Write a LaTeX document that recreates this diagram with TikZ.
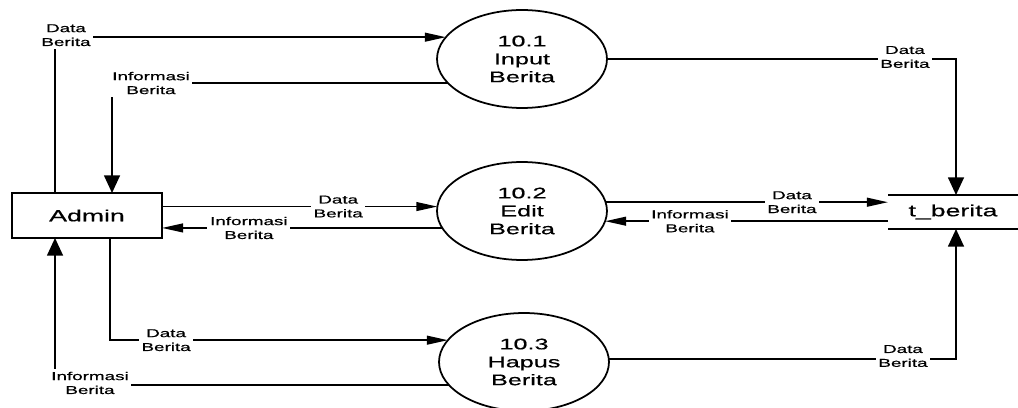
\documentclass[tikz,border=0pt]{standalone}
\usepackage{fontspec}
\setmainfont{Liberation Sans}
\newfontfamily\diafont[FakeStretch=1.65,FakeBold=0.6]{Liberation Sans}
\usetikzlibrary{arrows.meta,shapes.geometric,calc}
\begin{document}
\begin{tikzpicture}[x=0.02cm,y=-0.02cm,
  every node/.style={outer sep=0pt},
  proc/.style={ellipse, draw, line width=1pt, minimum width=3.4cm, minimum height=1.96cm,
    inner sep=0pt, align=center, font=\diafont\fontsize{8.7}{10.2}\selectfont},
  entity/.style={rectangle, draw, line width=0.8pt, minimum width=3cm, minimum height=0.9cm,
    inner sep=0pt, font=\diafont\fontsize{9.2}{11}\selectfont},
  datastore/.style={rectangle, minimum width=2.6cm, minimum height=0.68cm, inner sep=0pt,
    font=\diafont\fontsize{9.2}{11}\selectfont},
  lbl/.style={fill=white, inner sep=1.5pt, align=center, font=\diafont\fontsize{6.5}{7.9}\selectfont},
  flowh/.style={line width=1pt, -{Triangle[length=12pt,width=5pt]}},
  flowv/.style={line width=1pt, -{Triangle[length=10pt,width=9pt]}}
]
\useasboundingbox (0,0) rectangle (1018,408);

% external entity, processes and data store
\node[entity] (admin) at (87,215.5) {Admin};
\node[proc] (p1) at (522,59) {10.1\\Input\\Berita};
\node[proc] (p2) at (522,211) {10.2\\Edit\\Berita};
\node[proc] (p3) at (524,362) {10.3\\Hapus\\Berita};
\node[datastore] (store) at (953,212) {t\_berita};
\draw[line width=1pt] (store.north west) -- (store.north east)
                      (store.south west) -- (store.south east);

% Input Berita flows
\draw[flowh] ($(admin.north west)+(43,0)$) |- node[lbl, pos=0.5, xshift=0.22cm, yshift=0.04cm] {Data\\Berita} (p1.164);
\draw[flowv] (p1.198) -| node[lbl, pos=0.5, xshift=0.78cm] {Informasi\\Berita} ($(admin.north west)+(100,0)$);
\draw[flowv] (p1.east) -| node[lbl, pos=0.5, xshift=-1.02cm, yshift=0.04cm] {Data\\Berita} ($(store.north)+(3,0)$);

% Edit Berita flows
\draw[flowh] (admin.east |- p2.177) -- node[lbl, pos=0.64] {Data\\Berita} (p2.177);
\draw[flowh] (p2.192) -- node[lbl, pos=0.69] {Informasi\\Berita} (admin.east |- p2.192);
\draw[flowh] (p2.6) -- node[lbl, pos=0.66] {Data\\Berita} (store.west |- p2.6);
\draw[flowh] (store.west |- p2.353) -- node[lbl, pos=0.70] {Informasi\\Berita} (p2.353);

% Hapus Berita flows
\draw[flowh] ($(admin.south west)+(98,0)$) |- node[lbl, pos=0.583] {Data\\Berita} (p3.164);
\draw[flowv] (p3.197) -| node[lbl, pos=0.5, xshift=0.7cm, yshift=0.04cm] {Informasi\\Berita} ($(admin.south west)+(43,0)$);
\draw[flowv] (p3.2) -| node[lbl, pos=0.5, xshift=-1.06cm, yshift=0.06cm] {Data\\Berita} ($(store.south)+(3,0)$);
\end{tikzpicture}
\end{document}
